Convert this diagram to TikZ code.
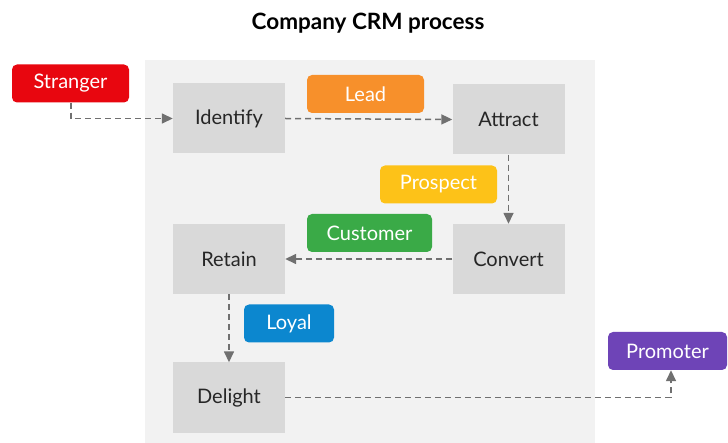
\documentclass[tikz,border=0pt]{standalone}
\usepackage{fontspec}
\setmainfont{Lato}
\usetikzlibrary{arrows.meta}
\definecolor{panelgray}{HTML}{F2F2F2}
\definecolor{boxgray}{HTML}{D9D9D9}
\definecolor{linegray}{HTML}{707070}
\definecolor{cstranger}{HTML}{E8060F}
\definecolor{clead}{HTML}{F7902B}
\definecolor{cprospect}{HTML}{FDC218}
\definecolor{ccustomer}{HTML}{3AAA47}
\definecolor{cloyal}{HTML}{0C87CF}
\definecolor{cpromoter}{HTML}{6E44B7}
\tikzset{
  stage/.style={fill=boxgray, draw=none, minimum width=112pt, minimum height=70pt,
    inner sep=0pt, font=\fontsize{20}{24}\selectfont, text=black!85},
  tag/.style={fill=#1, draw=none, rounded corners=5pt, minimum height=38pt,
    inner sep=0pt, font=\fontsize{20}{24}\selectfont, text=white},
  flow/.style={draw=linegray, line width=1.5pt, dash pattern=on 6pt off 4pt,
    -{Triangle[length=11pt,width=10pt]}},
}
\begin{document}
\begin{tikzpicture}[x=1pt,y=-1pt]
  \useasboundingbox (0,0) rectangle (728,443);
  \fill[white] (0,0) rectangle (728,443);
  % shaded panel behind the core stages
  \fill[panelgray] (145,60) rectangle (595,443);
  \node[font=\fontsize{22.5}{27}\bfseries\selectfont] (title) at (368,23) {Company CRM process};

  % process stages
  \node[stage] (identify) at (229,118.5) {Identify};
  \node[stage] (attract)  at (508.5,119.5) {Attract};
  \node[stage] (convert)  at (508.5,259) {Convert};
  \node[stage] (retain)   at (229,259) {Retain};
  \node[stage] (delight)  at (229,397.5) {Delight};

  % customer status tags
  \node[tag=cstranger, minimum width=117pt] (stranger) at (70.5,83.5) {Stranger};
  \node[tag=clead,     minimum width=117pt] (lead)     at (365.5,94) {Lead};
  \node[tag=cprospect, minimum width=117pt] (prospect) at (438.5,184.5) {Prospect};
  \node[tag=ccustomer, minimum width=125pt] (customer) at (369.5,233) {Customer};
  \node[tag=cloyal,    minimum width=90pt]  (loyal)    at (289,323.5) {Loyal};
  \node[tag=cpromoter, minimum width=119pt] (promoter) at (667.5,351) {Promoter};

  % flow connectors
  \draw[flow] ([xshift=0.5pt]stranger.south) |- (identify.west);
  \draw[flow] (identify.east) -- (attract.west);
  \draw[flow] (attract.south) -- (convert.north);
  \draw[flow] (convert.west) -- (retain.east);
  \draw[flow] (retain.south) -- (delight.north);
  \draw[flow] (delight.east) -| ([xshift=3.5pt]promoter.south);
\end{tikzpicture}
\end{document}
